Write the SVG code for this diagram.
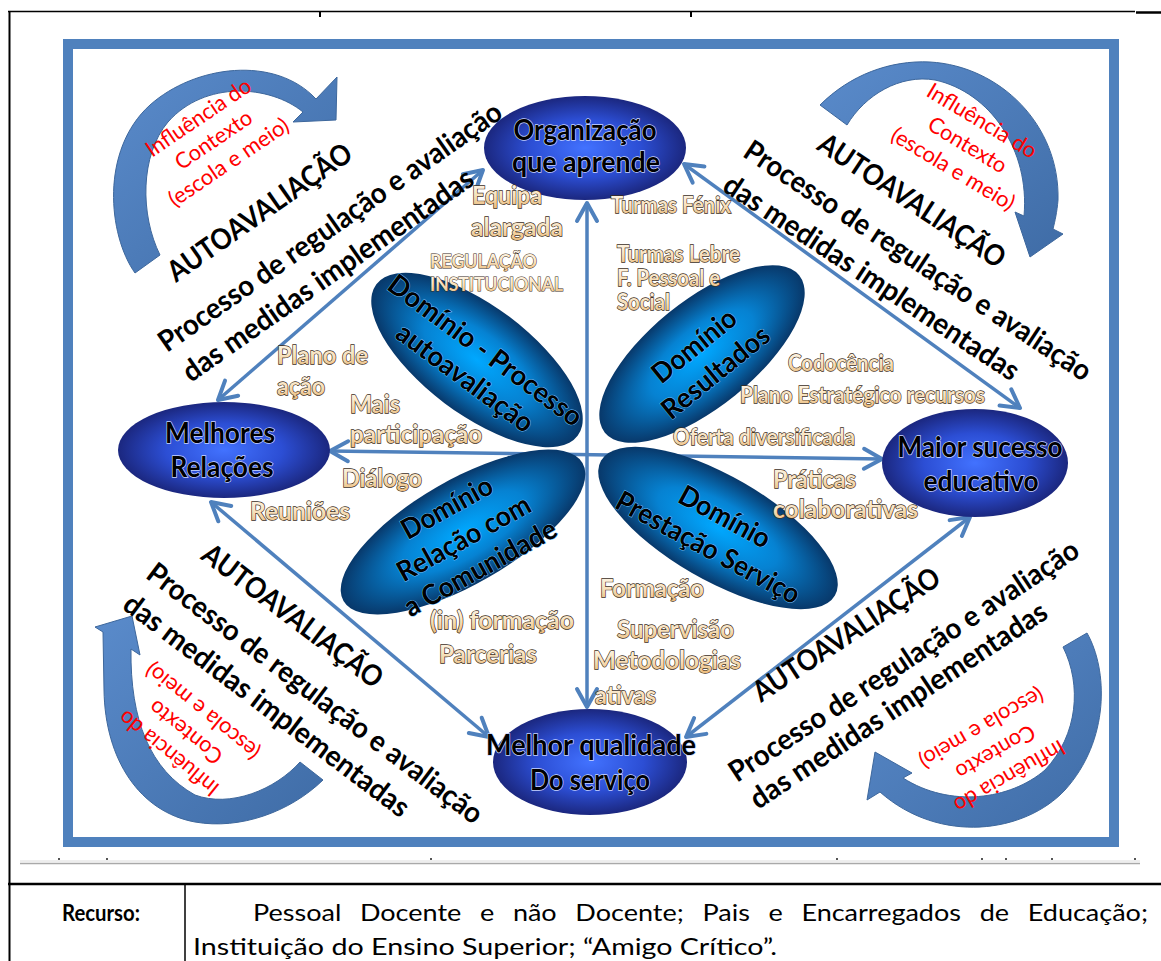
<svg xmlns="http://www.w3.org/2000/svg" width="1161" height="961" viewBox="0 0 1161 961">
  <style>
    .corner { font-family: Lato, "Liberation Sans", sans-serif; font-weight: 700; font-size: 29px; fill: #000; }
    .ctx { font-family: Lato, "Liberation Sans", sans-serif; font-size: 22px; fill: #ff0000; text-anchor: middle; dominant-baseline: central; }
    .node-t { font-family: Lato, "Liberation Sans", sans-serif; font-weight: 700; font-size: 28px; fill: #000; stroke: #c9d5ff; stroke-width: 1.4; paint-order: stroke; text-anchor: middle; }
    .petal-t { font-family: Lato, "Liberation Sans", sans-serif; font-weight: 700; font-size: 28px; fill: #000; stroke: #6fc0ff; stroke-width: 1; paint-order: stroke; text-anchor: middle; dominant-baseline: central; }
    .lbl { font-family: Lato, "Liberation Sans", sans-serif; font-weight: 700; font-size: 24px; fill: url(#gWA); stroke: #3b2d1a; stroke-width: 1.3; paint-order: stroke; }
    .lbl-s { font-size: 22px; }
    .lbl-xs { font-size: 18px; stroke-width: 1; }
    .tbl { font-family: Lato, "Liberation Sans", sans-serif; font-size: 23px; fill: #000; }
    .conn { stroke: #4f81bd; stroke-width: 3.5; fill: none; marker-start: url(#ah); marker-end: url(#ah); }
    .arc { fill: url(#gArc); stroke: #3d679c; stroke-width: 1; }
  </style>
  <defs>
    <marker id="ah" viewBox="-22 -13 26 26" refX="0" refY="0" markerWidth="26" markerHeight="26" markerUnits="userSpaceOnUse" orient="auto-start-reverse">
      <path d="M-18,-10 L0,0 L-18,10" fill="none" stroke="#4f81bd" stroke-width="4" stroke-linecap="round" stroke-linejoin="round"/>
    </marker>
    <radialGradient id="gNode" cx="50%" cy="50%" r="50%">
      <stop offset="0" stop-color="#4272ff"/>
      <stop offset="0.55" stop-color="#2c4ed4"/>
      <stop offset="1" stop-color="#1b277f"/>
    </radialGradient>
    <radialGradient id="gPetal" cx="50%" cy="50%" r="50%">
      <stop offset="0" stop-color="#00a8ff"/>
      <stop offset="0.5" stop-color="#0682d2"/>
      <stop offset="1" stop-color="#08386a"/>
    </radialGradient>
    <linearGradient id="gArc" x1="0" y1="0" x2="1" y2="1">
      <stop offset="0" stop-color="#5a8bcb"/>
      <stop offset="1" stop-color="#3f6ca6"/>
    </linearGradient>
    <linearGradient id="gWA" x1="0" y1="0" x2="0" y2="1">
      <stop offset="0" stop-color="#fffbf3"/>
      <stop offset="0.55" stop-color="#f7e0bb"/>
      <stop offset="1" stop-color="#e9b877"/>
    </linearGradient>
  </defs>

  <rect width="1161" height="961" fill="#fff"/>

  <!-- page rules and table -->
  <g id="page">
    <line x1="8" y1="11.5" x2="1135" y2="11.5" stroke="#000" stroke-width="1.5"/>
    <line x1="1136" y1="12.5" x2="1161" y2="12.5" stroke="#000" stroke-width="2.5"/>
    <line x1="9.5" y1="11" x2="9.5" y2="961" stroke="#000" stroke-width="2"/>
    <line x1="320" y1="12" x2="320" y2="17" stroke="#000" stroke-width="2"/>
    <line x1="691" y1="12" x2="691" y2="17" stroke="#000" stroke-width="2"/>
    <line x1="20" y1="863.5" x2="1140" y2="863.5" stroke="#a9a9a9" stroke-width="1.5"/>
    <line x1="20" y1="861" x2="1140" y2="861" stroke="#dcdcdc" stroke-width="1"/>
    <g fill="#555">
      <rect x="58" y="858" width="2" height="2"/>
      <rect x="106" y="858" width="2" height="2"/>
      <rect x="430" y="858" width="2" height="2"/>
      <rect x="836" y="858" width="2" height="2"/>
      <rect x="981" y="858" width="2" height="2"/>
      <rect x="1005" y="858" width="2" height="2"/>
      <rect x="1051" y="858" width="2" height="2"/>
      <rect x="1134" y="858" width="2" height="2"/>
    </g>
    <line x1="8" y1="884" x2="1161" y2="884" stroke="#000" stroke-width="2.5"/>
    <line x1="185" y1="885" x2="185" y2="961" stroke="#000" stroke-width="1.5"/>
    <text class="tbl" x="101" y="921" font-weight="700" font-size="21" text-anchor="middle" textLength="78" lengthAdjust="spacingAndGlyphs">Recurso:</text>
    <text class="tbl" x="253" y="921" textLength="895" lengthAdjust="spacingAndGlyphs" word-spacing="10">Pessoal Docente e não Docente; Pais e Encarregados de Educação;</text>
    <text class="tbl" x="193" y="955" textLength="584" lengthAdjust="spacingAndGlyphs">Instituição do Ensino Superior; “Amigo Crítico”.</text>
  </g>

  <!-- blue frame -->
  <rect id="frame" x="68" y="44" width="1046" height="798" fill="none" stroke="#4f81bd" stroke-width="10"/>

  <!-- curved context arrows -->
  <g id="context-arrows">
    <path class="arc" d="M135,273 C108,235 100,150 150,105 C195,65 275,55 316,99 L337,77 L336,120 L293,122 L303,112 C270,85 205,80 168,122 C140,155 140,215 160,255 Z"/>
    <path class="arc" d="M820,105 C850,75 890,60 930,62 C1000,66 1060,125 1058,200 C1057,212 1055,221 1053,229 L1063,234 L1030,257 L1015,212 L1024,216 C1030,150 990,92 935,80 C900,74 865,95 847,125 Z"/>
    <path class="arc" d="M323,780 C290,812 240,830 195,822 C140,812 105,760 104,690 L103,632 L95,627 L132,616 L140,655 L131,649 C130,720 150,770 195,795 C230,808 275,790 300,762 Z"/>
    <path class="arc" d="M1087,633 C1108,670 1110,740 1065,790 C1025,833 940,845 880,792 L867,800 L875,752 L912,773 L903,778 C950,808 1010,800 1045,770 C1078,735 1082,685 1063,647 Z"/>
  </g>

  <!-- connectors -->
  <g id="connectors">
    <line class="conn" x1="587" y1="203" x2="587" y2="707"/>
    <line class="conn" x1="330" y1="451" x2="882" y2="459"/>
    <line class="conn" x1="483" y1="170" x2="218" y2="400"/>
    <line class="conn" x1="684" y1="164" x2="1020" y2="408"/>
    <line class="conn" x1="211" y1="502" x2="489" y2="737"/>
    <line class="conn" x1="970" y1="517" x2="686" y2="737"/>
  </g>

  <!-- domain petals -->
  <g id="dominio-processo">
    <ellipse cx="0" cy="0" rx="126" ry="54" fill="url(#gPetal)" transform="translate(477,360) rotate(37)"/>
    <g transform="translate(476,363) rotate(36.5)">
      <text class="petal-t" x="0" y="-17" textLength="234" lengthAdjust="spacingAndGlyphs">Domínio - Processo</text>
      <text class="petal-t" x="0" y="17" textLength="163" lengthAdjust="spacingAndGlyphs">autoavaliação</text>
    </g>
  </g>
  <g id="dominio-resultados">
    <ellipse cx="0" cy="0" rx="125" ry="53" fill="url(#gPetal)" transform="translate(702,354) rotate(-39)"/>
    <g transform="translate(704,358) rotate(-39)">
      <text class="petal-t" x="0" y="-17" textLength="100" lengthAdjust="spacingAndGlyphs">Domínio</text>
      <text class="petal-t" x="0" y="17" textLength="130" lengthAdjust="spacingAndGlyphs">Resultados</text>
    </g>
  </g>
  <g id="dominio-comunidade">
    <ellipse cx="0" cy="0" rx="138" ry="52" fill="url(#gPetal)" transform="translate(463,532) rotate(-30)"/>
    <g transform="translate(463,537) rotate(-29)">
      <text class="petal-t" x="0" y="-35" textLength="100" lengthAdjust="spacingAndGlyphs">Domínio</text>
      <text class="petal-t" x="0" y="0" textLength="148" lengthAdjust="spacingAndGlyphs">Relação com</text>
      <text class="petal-t" x="0" y="34" textLength="170" lengthAdjust="spacingAndGlyphs">a Comunidade</text>
    </g>
  </g>
  <g id="dominio-servico">
    <ellipse cx="0" cy="0" rx="135" ry="52" fill="url(#gPetal)" transform="translate(718,528) rotate(30)"/>
    <g transform="translate(717,531) rotate(28.5)">
      <text class="petal-t" x="0" y="-17.5" textLength="100" lengthAdjust="spacingAndGlyphs">Domínio</text>
      <text class="petal-t" x="0" y="17.5" textLength="205" lengthAdjust="spacingAndGlyphs">Prestação Serviço</text>
    </g>
  </g>

  <!-- outcome nodes -->
  <g id="organizacao">
    <ellipse cx="585" cy="148" rx="101" ry="52" fill="url(#gNode)"/>
    <text class="node-t" x="585" y="140" textLength="143" lengthAdjust="spacingAndGlyphs">Organização</text>
    <text class="node-t" x="586" y="172" textLength="148" lengthAdjust="spacingAndGlyphs">que aprende</text>
  </g>
  <g id="melhores-relacoes">
    <ellipse cx="224" cy="450" rx="106" ry="48" fill="url(#gNode)"/>
    <text class="node-t" x="220" y="443" textLength="110" lengthAdjust="spacingAndGlyphs">Melhores</text>
    <text class="node-t" x="222" y="477" textLength="103" lengthAdjust="spacingAndGlyphs">Relações</text>
  </g>
  <g id="maior-sucesso">
    <ellipse cx="975" cy="463" rx="93" ry="54" fill="url(#gNode)"/>
    <text class="node-t" x="980" y="457" textLength="165" lengthAdjust="spacingAndGlyphs">Maior sucesso</text>
    <text class="node-t" x="981" y="491" textLength="115" lengthAdjust="spacingAndGlyphs">educativo</text>
  </g>
  <g id="melhor-qualidade">
    <ellipse cx="590" cy="762" rx="97" ry="53" fill="url(#gNode)"/>
    <text class="node-t" x="591" y="755" textLength="210" lengthAdjust="spacingAndGlyphs">Melhor qualidade</text>
    <text class="node-t" x="590" y="790" textLength="120" lengthAdjust="spacingAndGlyphs">Do serviço</text>
  </g>

  <!-- measure labels -->
  <g id="labels">
    <text class="lbl" x="472" y="204" textLength="70" lengthAdjust="spacingAndGlyphs">Equipa</text>
    <text class="lbl" x="471" y="236" textLength="92" lengthAdjust="spacingAndGlyphs">alargada</text>
    <text class="lbl lbl-xs" x="430" y="268" textLength="107" lengthAdjust="spacingAndGlyphs">REGULAÇÃO</text>
    <text class="lbl lbl-xs" x="430" y="291" textLength="133" lengthAdjust="spacingAndGlyphs">INSTITUCIONAL</text>
    <text class="lbl lbl-s" x="611" y="213" textLength="120" lengthAdjust="spacingAndGlyphs">Turmas Fénix</text>
    <text class="lbl lbl-s" x="617" y="262" textLength="123" lengthAdjust="spacingAndGlyphs">Turmas Lebre</text>
    <text class="lbl lbl-s" x="617" y="286" textLength="103" lengthAdjust="spacingAndGlyphs">F. Pessoal e</text>
    <text class="lbl lbl-s" x="617" y="310" textLength="53" lengthAdjust="spacingAndGlyphs">Social</text>
    <text class="lbl lbl-s" x="788" y="371" textLength="106" lengthAdjust="spacingAndGlyphs">Codocência</text>
    <text class="lbl lbl-s" x="740" y="403" textLength="245" lengthAdjust="spacingAndGlyphs">Plano Estratégico recursos</text>
    <text class="lbl lbl-s" x="673" y="445" textLength="182" lengthAdjust="spacingAndGlyphs">Oferta diversificada</text>
    <text class="lbl" x="773" y="488" textLength="83" lengthAdjust="spacingAndGlyphs">Práticas</text>
    <text class="lbl" x="773" y="518" textLength="145" lengthAdjust="spacingAndGlyphs">colaborativas</text>
    <text class="lbl" x="277" y="364" textLength="91" lengthAdjust="spacingAndGlyphs">Plano de</text>
    <text class="lbl" x="277" y="395" textLength="48" lengthAdjust="spacingAndGlyphs">ação</text>
    <text class="lbl" x="350" y="413" textLength="50" lengthAdjust="spacingAndGlyphs">Mais</text>
    <text class="lbl" x="350" y="443" textLength="132" lengthAdjust="spacingAndGlyphs">participação</text>
    <text class="lbl" x="342" y="487" textLength="80" lengthAdjust="spacingAndGlyphs">Diálogo</text>
    <text class="lbl" x="250" y="520" textLength="100" lengthAdjust="spacingAndGlyphs">Reuniões</text>
    <text class="lbl" x="430" y="629" textLength="144" lengthAdjust="spacingAndGlyphs">(in) formação</text>
    <text class="lbl" x="439" y="663" textLength="98" lengthAdjust="spacingAndGlyphs">Parcerias</text>
    <text class="lbl" x="600" y="597" textLength="104" lengthAdjust="spacingAndGlyphs">Formação</text>
    <text class="lbl" x="617" y="638" textLength="117" lengthAdjust="spacingAndGlyphs">Supervisão</text>
    <text class="lbl" x="593" y="669" textLength="148" lengthAdjust="spacingAndGlyphs">Metodologias</text>
    <text class="lbl" x="595" y="704" textLength="61" lengthAdjust="spacingAndGlyphs">ativas</text>
  </g>

  <!-- corner captions -->
  <g id="corner-tl">
    <g transform="translate(213,139) rotate(-34)">
      <text class="ctx" x="0" y="-27" textLength="122" lengthAdjust="spacingAndGlyphs">Influência do</text>
      <text class="ctx" x="0" y="0" textLength="88" lengthAdjust="spacingAndGlyphs">Contexto</text>
      <text class="ctx" x="0" y="27" textLength="140" lengthAdjust="spacingAndGlyphs">(escola e meio)</text>
    </g>
    <g transform="translate(167,353) rotate(-35)">
      <text class="corner" x="47.6" y="-52.2" textLength="218" lengthAdjust="spacingAndGlyphs">AUTOAVALIAÇÃO</text>
      <text class="corner" x="0" y="0" textLength="412" lengthAdjust="spacingAndGlyphs">Processo de regulação  e avaliação</text>
      <text class="corner" x="2.5" y="38.3" textLength="348" lengthAdjust="spacingAndGlyphs">das medidas implementadas</text>
    </g>
  </g>
  <g id="corner-tr">
    <g transform="translate(968,144) rotate(31)">
      <text class="ctx" x="0" y="-28" textLength="124" lengthAdjust="spacingAndGlyphs">Influência do</text>
      <text class="ctx" x="0" y="0" textLength="88" lengthAdjust="spacingAndGlyphs">Contexto</text>
      <text class="ctx" x="0" y="28" textLength="140" lengthAdjust="spacingAndGlyphs">(escola e meio)</text>
    </g>
    <g transform="translate(741.5,155.8) rotate(33.5)">
      <text class="corner" x="57.8" y="-46.6" textLength="218" lengthAdjust="spacingAndGlyphs">AUTOAVALIAÇÃO</text>
      <text class="corner" x="0" y="0" textLength="410" lengthAdjust="spacingAndGlyphs">Processo de regulação e avaliação</text>
      <text class="corner" x="1.6" y="39.6" textLength="348" lengthAdjust="spacingAndGlyphs">das medidas implementadas</text>
    </g>
  </g>
  <g id="corner-bl">
    <g transform="translate(185,733) rotate(219)">
      <text class="ctx" x="0" y="-27" textLength="122" lengthAdjust="spacingAndGlyphs">Influência do</text>
      <text class="ctx" x="0" y="0" textLength="88" lengthAdjust="spacingAndGlyphs">Contexto</text>
      <text class="ctx" x="0" y="27" textLength="140" lengthAdjust="spacingAndGlyphs">(escola e meio)</text>
    </g>
    <g transform="translate(144.6,577.2) rotate(37)">
      <text class="corner" x="32.5" y="-48.3" textLength="218" lengthAdjust="spacingAndGlyphs">AUTOAVALIAÇÃO</text>
      <text class="corner" x="0" y="0" textLength="412" lengthAdjust="spacingAndGlyphs">Processo de regulação e avaliação</text>
      <text class="corner" x="-0.4" y="38.8" textLength="350" lengthAdjust="spacingAndGlyphs">das medidas implementadas</text>
    </g>
  </g>
  <g id="corner-br">
    <g transform="translate(996,753) rotate(150)">
      <text class="ctx" x="0" y="-28" textLength="124" lengthAdjust="spacingAndGlyphs">Influência do</text>
      <text class="ctx" x="0" y="0" textLength="88" lengthAdjust="spacingAndGlyphs">Contexto</text>
      <text class="ctx" x="0" y="28" textLength="140" lengthAdjust="spacingAndGlyphs">(escola e meio)</text>
    </g>
    <g transform="translate(737,783) rotate(-33.5)">
      <text class="corner" x="64.2" y="-53.5" textLength="218" lengthAdjust="spacingAndGlyphs">AUTOAVALIAÇÃO</text>
      <text class="corner" x="0" y="0" textLength="413" lengthAdjust="spacingAndGlyphs">Processo de regulação e avaliação</text>
      <text class="corner" x="2.6" y="34.1" textLength="350" lengthAdjust="spacingAndGlyphs">das medidas implementadas</text>
    </g>
  </g>
</svg>
